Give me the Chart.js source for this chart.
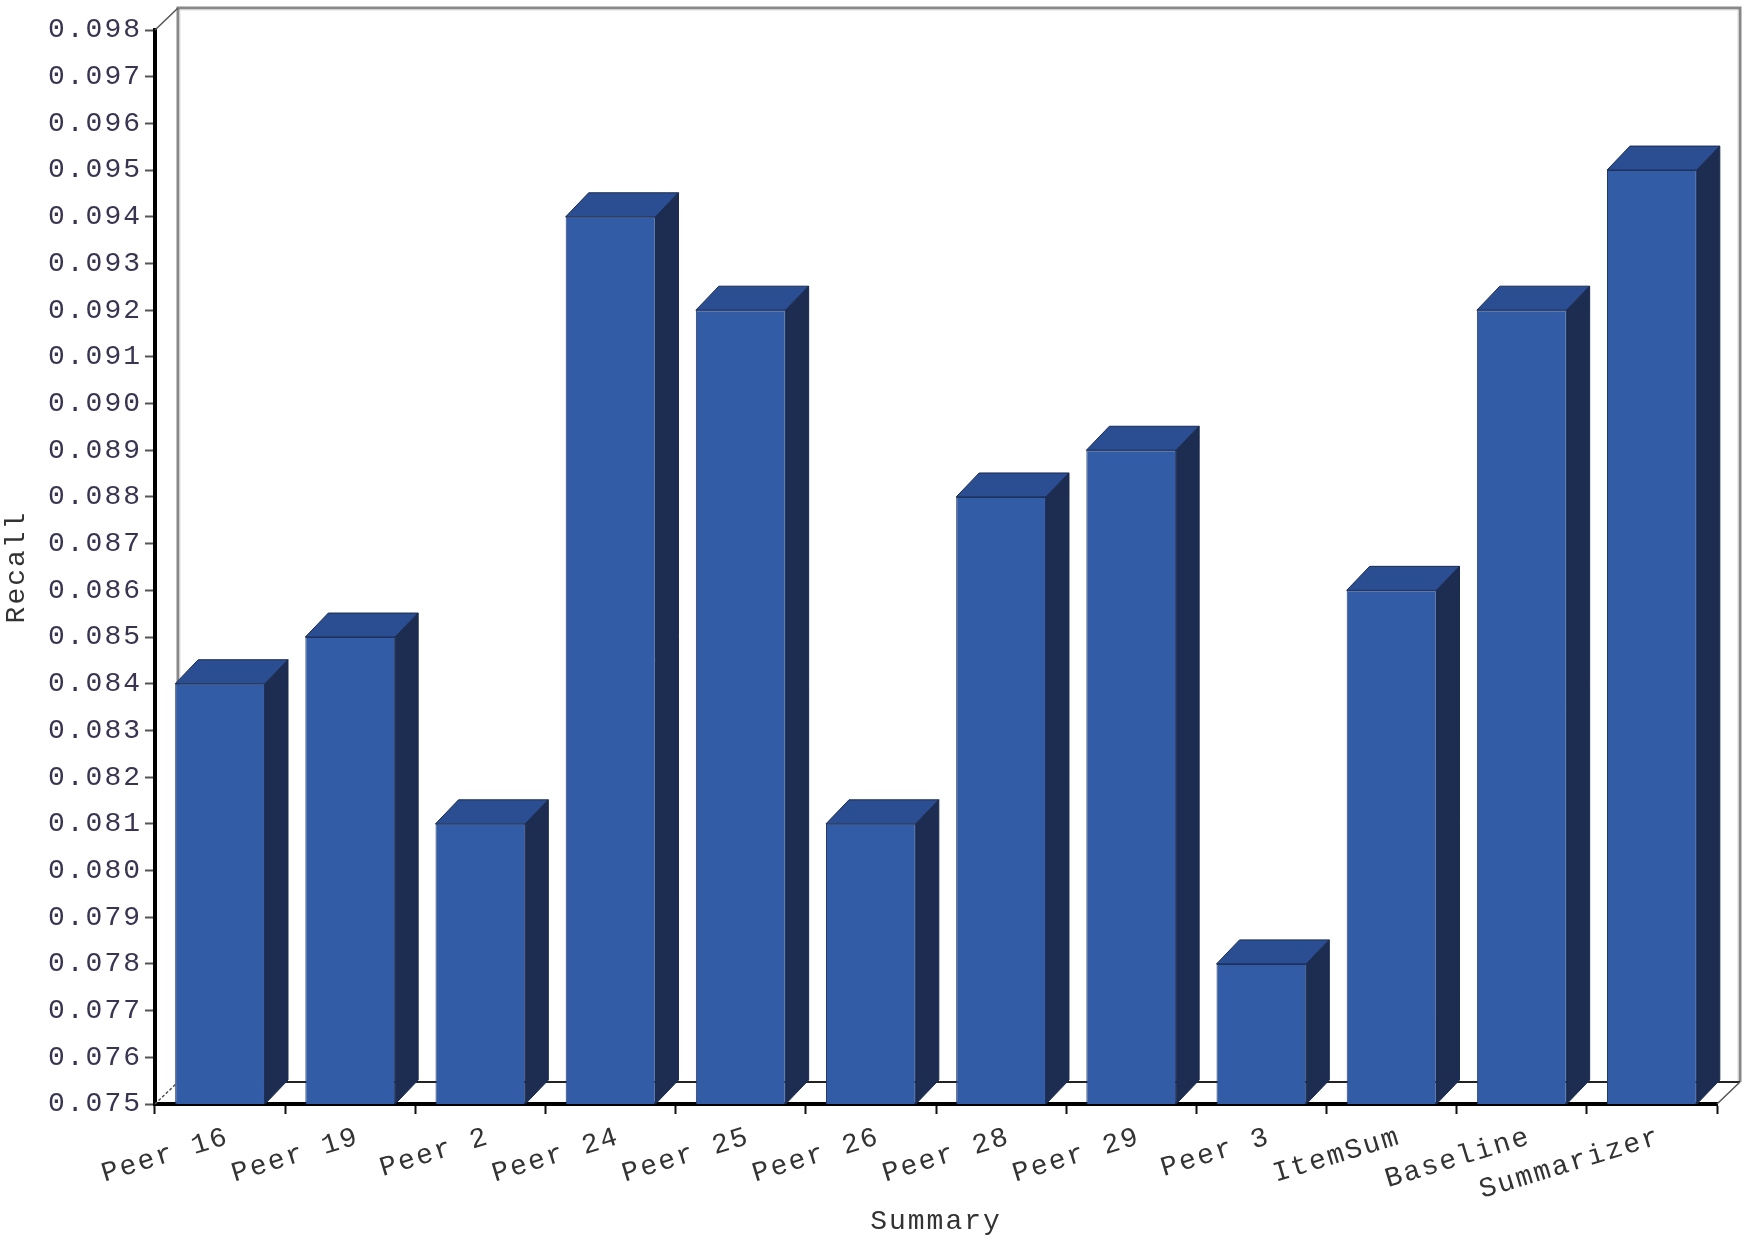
<!DOCTYPE html>
<html>
<head>
<meta charset="utf-8">
<script src="https://cdn.jsdelivr.net/npm/chart.js@4"></script>
<style>
  html, body { margin: 0; padding: 0; background: #fff; }
  #wrap { width: 1750px; height: 1240px; }
</style>
</head>
<body>
<div id="wrap"><canvas id="myChart" width="1750" height="1240"></canvas></div>
<script>
// data
const categories = ['Peer 16', 'Peer 19', 'Peer 2', 'Peer 24', 'Peer 25', 'Peer 26',
  'Peer 28', 'Peer 29', 'Peer 3', 'ItemSum', 'Baseline', 'Summarizer'];
const recall = [0.084, 0.085, 0.081, 0.094, 0.092, 0.081, 0.088, 0.089, 0.078, 0.086, 0.092, 0.095];
const yTicks = [0.075, 0.076, 0.077, 0.078, 0.079, 0.080, 0.081, 0.082, 0.083, 0.084, 0.085, 0.086,
  0.087, 0.088, 0.089, 0.090, 0.091, 0.092, 0.093, 0.094, 0.095, 0.096, 0.097, 0.098];

const font = "'Liberation Mono', 'DejaVu Sans Mono', monospace";
const textColor = '#333';

// 3d look: walls and bar depth
const wall = { dx: 23, dy: 22 };
const depth = { dx: 23, dy: 24 };

const threeD = {
  id: 'threeD',
  beforeLayout(chart) {
    chart.ctx.letterSpacing = '2px';
  },
  beforeDraw(chart) {
    chart.ctx.letterSpacing = '2px';
  },
  beforeDatasetsDraw(chart) {
    const ctx = chart.ctx;
    const { left, right, top, bottom } = chart.chartArea;
    ctx.save();
    // back wall
    ctx.strokeStyle = '#888';
    ctx.lineWidth = 3;
    ctx.beginPath();
    ctx.moveTo(left + wall.dx, bottom - wall.dy);
    ctx.lineTo(left + wall.dx, top - wall.dy);
    ctx.lineTo(right + wall.dx, top - wall.dy);
    ctx.lineTo(right + wall.dx, bottom - wall.dy);
    ctx.stroke();
    ctx.strokeStyle = '#ddd';
    ctx.lineWidth = 1;
    ctx.beginPath();
    ctx.moveTo(left + wall.dx + 2, bottom - wall.dy);
    ctx.lineTo(left + wall.dx + 2, top - wall.dy + 2);
    ctx.lineTo(right + wall.dx - 2, top - wall.dy + 2);
    ctx.lineTo(right + wall.dx - 2, bottom - wall.dy);
    ctx.stroke();
    // floor back edge
    ctx.strokeStyle = '#222';
    ctx.lineWidth = 2;
    ctx.beginPath();
    ctx.moveTo(left + wall.dx, bottom - wall.dy);
    ctx.lineTo(right + wall.dx, bottom - wall.dy);
    ctx.stroke();
    // corner diagonals
    ctx.strokeStyle = '#555';
    ctx.lineWidth = 1.5;
    ctx.beginPath();
    ctx.moveTo(left, top);
    ctx.lineTo(left + wall.dx, top - wall.dy);
    ctx.moveTo(right, bottom);
    ctx.lineTo(right + wall.dx, bottom - wall.dy);
    ctx.stroke();
    ctx.setLineDash([3, 2]);
    ctx.beginPath();
    ctx.moveTo(left, bottom);
    ctx.lineTo(left + wall.dx, bottom - wall.dy);
    ctx.stroke();
    ctx.restore();
  },
  afterDatasetsDraw(chart) {
    const ctx = chart.ctx;
    const floor = chart.chartArea.bottom;
    ctx.save();
    ctx.lineWidth = 1;
    ctx.strokeStyle = '#1a2b4f';
    chart.getDatasetMeta(0).data.forEach(bar => {
      const { x, y, width, base } = bar.getProps(['x', 'y', 'width', 'base'], true);
      const l = x - width / 2, r = x + width / 2;
      const b = Math.min(base, floor);
      // top face
      ctx.fillStyle = '#2b4e93';
      ctx.beginPath();
      ctx.moveTo(l, y);
      ctx.lineTo(l + depth.dx, y - depth.dy);
      ctx.lineTo(r + depth.dx, y - depth.dy);
      ctx.lineTo(r, y);
      ctx.closePath();
      ctx.fill();
      ctx.stroke();
      // side face
      ctx.fillStyle = '#1c2d51';
      ctx.beginPath();
      ctx.moveTo(r, y);
      ctx.lineTo(r + depth.dx, y - depth.dy);
      ctx.lineTo(r + depth.dx, b - depth.dy);
      ctx.lineTo(r, b);
      ctx.closePath();
      ctx.fill();
      ctx.stroke();
    });
    ctx.restore();
  }
};

const ctx = document.getElementById('myChart');
new Chart(ctx, {
  type: 'bar',
  data: {
    labels: categories,
    datasets: [{
      label: 'Recall',
      data: recall,
      backgroundColor: '#335ca7',
      borderColor: '#22396b',
      borderWidth: 1,
      categoryPercentage: 1,
      barPercentage: 0.69
    }]
  },
  options: {
    responsive: false,
    animation: false,
    layout: { padding: { top: 30, right: 33, left: 0, bottom: 0 } },
    plugins: {
      legend: { display: false },
      tooltip: { enabled: false }
    },
    scales: {
      x: {
        z: 1,
        afterFit: s => { s.height = 136; },
        grid: { drawOnChartArea: false, tickLength: 10, tickColor: '#111', tickWidth: 2, offset: true },
        border: { color: '#000', width: 4 },
        ticks: {
          autoSkip: false,
          minRotation: 17,
          maxRotation: 17,
          labelOffset: 8,
          padding: 6,
          color: textColor,
          font: { family: font, size: 28 }
        },
        title: {
          display: true,
          text: 'Summary',
          color: textColor,
          padding: { top: 0, bottom: 2 },
          font: { family: font, size: 28 }
        }
      },
      y: {
        z: 1,
        min: 0.075,
        max: 0.098,
        afterFit: s => { s.width = 155; },
        afterBuildTicks: s => { s.ticks = yTicks.map(v => ({ value: v })); },
        grid: { drawOnChartArea: false, tickLength: 10, tickColor: '#555', tickWidth: 2 },
        border: { color: '#000', width: 4 },
        ticks: {
          padding: 3,
          color: '#3a3450',
          font: { family: font, size: 28 },
          callback: v => v.toFixed(3)
        },
        title: {
          display: true,
          text: 'Recall',
          color: textColor,
          padding: { top: 0, bottom: 0 },
          font: { family: font, size: 28 }
        }
      }
    }
  },
  plugins: [threeD]
});
</script>
</body>
</html>
